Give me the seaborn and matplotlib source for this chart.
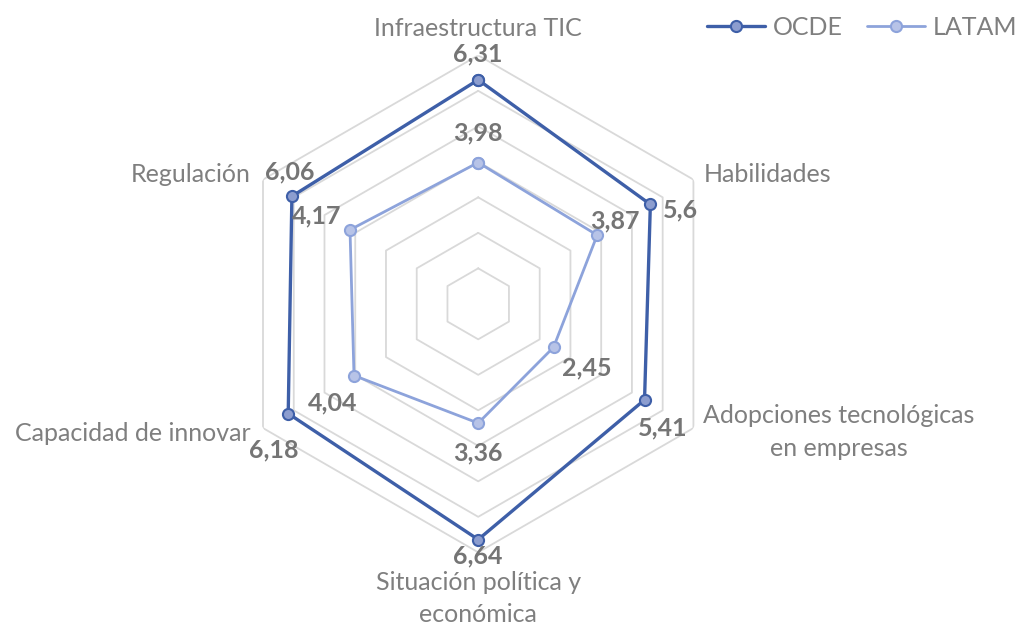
"""
Radar chart: OCDE vs LATAM across six digital-readiness dimensions.
"""

import numpy as np
import pandas as pd
import matplotlib
matplotlib.use("Agg")
import matplotlib.pyplot as plt
import seaborn as sns


# ========== DATA ========== #

CATEGORIES = [
    "Infraestructura TIC",
    "Habilidades",
    "Adopciones tecnológicas\nen empresas",
    "Situación política y\neconómica",
    "Capacidad de innovar",
    "Regulación",
]
OCDE = [6.31, 5.6, 5.41, 6.64, 6.18, 6.06]
LATAM = [3.98, 3.87, 2.45, 3.36, 4.04, 4.17]
OCDE_LABELS = ["6,31", "5,6", "5,41", "6,64", "6,18", "6,06"]
LATAM_LABELS = ["3,98", "3,87", "2,45", "3,36", "4,04", "4,17"]
RINGS = [1, 2, 3, 4, 5, 6, 7]

# ========== STYLE ========== #

OCDE_LINE = "#3E5FA8"
OCDE_FACE = "#8C9DCF"
LATAM_LINE = "#8DA3DB"
LATAM_FACE = "#B7C3E7"
GRID = "#D9D9D9"
TEXT = "#7F7F7F"
VALUE = "#757575"

sns.set_theme(style="white")
plt.rcParams["font.family"] = ["Lato", "DejaVu Sans"]

# pixel offsets for the data labels (x right, y up)
OCDE_OFFS = [(0, 26), (30, -5), (18, -28), (0, -16), (-14, -36), (-2, 24)]
LATAM_OFFS = [(0, 30), (18, 14), (33, -21), (0, -30), (-21, -27), (-33, 14)]
CAT_OFFS = [(0, 27), (10, 5), (10, -4), (0, -46), (-12, -5), (-12, 5)]
CAT_HA = ["center", "left", "left", "center", "right", "right"]


def main():
    n = len(CATEGORIES)
    theta = np.linspace(0, 2 * np.pi, n, endpoint=False)
    closed = np.append(theta, 2 * np.pi)

    df = pd.concat([
        pd.DataFrame({"theta": closed, "value": OCDE + OCDE[:1], "serie": "OCDE"}),
        pd.DataFrame({"theta": closed, "value": LATAM + LATAM[:1], "serie": "LATAM"}),
    ])

    fig = plt.figure(figsize=(10.24, 6.28), dpi=100)
    ax = fig.add_axes([0.2243, 0.1205, 0.4854, 0.7914], projection="polar")
    ax.set_theta_zero_location("N")
    ax.set_theta_direction(-1)

    # hexagonal grid
    for r in RINGS:
        ax.plot(closed, [r] * len(closed), color=GRID, lw=1.3, zorder=1)

    styles = {
        "OCDE": (OCDE_LINE, OCDE_FACE, 2.4),
        "LATAM": (LATAM_LINE, LATAM_FACE, 2.0),
    }
    for serie in ["LATAM", "OCDE"]:
        line, face, lw = styles[serie]
        sns.lineplot(
            data=df[df["serie"] == serie], x="theta", y="value",
            sort=False, estimator=None, ax=ax, color=line, lw=lw,
            marker="o", markersize=8, markerfacecolor=face,
            markeredgecolor=line, markeredgewidth=1.5, label=serie, zorder=3,
        )

    ax.set_ylim(0, 7)
    ax.set_xticks([])
    ax.set_yticks([])
    ax.set_xlabel("")
    ax.set_ylabel("")
    ax.grid(False)
    ax.spines["polar"].set_visible(False)
    ax.set_facecolor("none")

    # data labels
    for vals, labels, offs in [(OCDE, OCDE_LABELS, OCDE_OFFS),
                               (LATAM, LATAM_LABELS, LATAM_OFFS)]:
        for t, v, lab, off in zip(theta, vals, labels, offs):
            ax.annotate(lab, xy=(t, v), xytext=off, textcoords="offset pixels",
                        ha="center", va="center", fontsize=18,
                        fontweight="bold", color=VALUE, zorder=4)

    # category labels
    for t, cat, off, ha in zip(theta, CATEGORIES, CAT_OFFS, CAT_HA):
        ax.annotate(cat, xy=(t, 7), xytext=off, textcoords="offset pixels",
                    ha=ha, va="center", multialignment="center",
                    fontsize=18, color=TEXT, linespacing=1.5,
                    annotation_clip=False)

    handles, labels = ax.get_legend_handles_labels()
    ax.get_legend().remove()
    order = [labels.index("OCDE"), labels.index("LATAM")]
    fig.legend([handles[i] for i in order], [labels[i] for i in order],
               loc="upper right", bbox_to_anchor=(1.015, 1.01), ncol=2,
               frameon=False, fontsize=18, labelcolor=TEXT,
               handlelength=2.3, columnspacing=1.0, handletextpad=0.3)

    fig.savefig("out.png", dpi=100)
    plt.close(fig)


if __name__ == "__main__":
    main()
